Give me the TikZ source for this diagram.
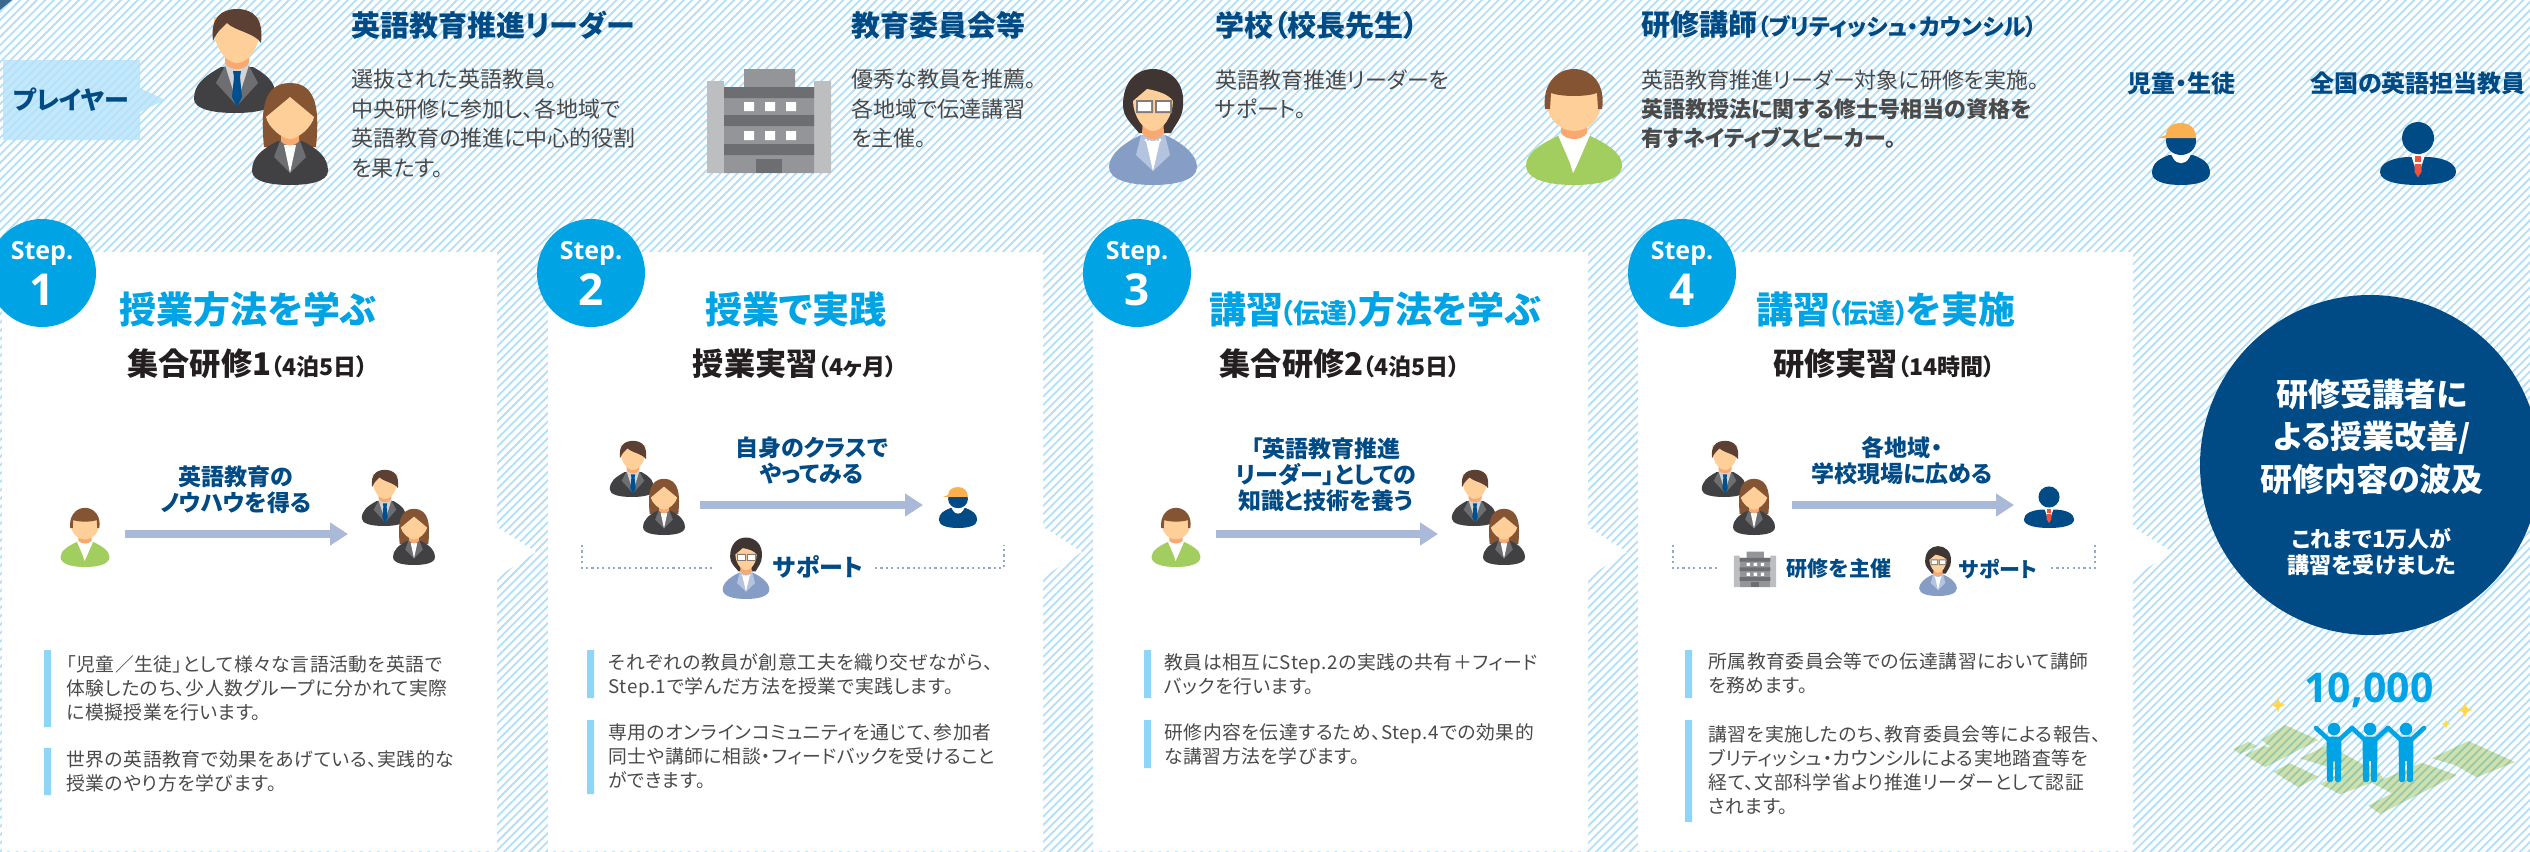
\documentclass[tikz,border=0pt]{standalone}
\usepackage{fontspec}
\usetikzlibrary{arrows.meta}
\setmainfont{Noto Sans CJK JP}[RawFeature=+palt]
\newfontfamily\stepfont{Open Sans}
\newfontfamily\notefont{Noto Sans CJK JP}[RawFeature=+palt,LetterSpace=3]
\newcommand\fs[2]{\fontsize{#1}{#2}\selectfont}
\definecolor{navy}{HTML}{004B85}
\definecolor{sky}{HTML}{00A3E4}
\definecolor{ink}{HTML}{4A4A4A}
\definecolor{darkink}{HTML}{231F20}
\definecolor{stripeblue}{HTML}{B3E0F7}
\definecolor{tagblue}{HTML}{B5E2FA}
\definecolor{barblue}{HTML}{8DD6F7}
\definecolor{flowblue}{HTML}{AAB9D8}
\definecolor{skin}{HTML}{FFCF99}
\definecolor{neckskin}{HTML}{F9A870}
\definecolor{suit}{HTML}{414042}
\definecolor{lapel}{HTML}{6D6E71}
\definecolor{shirt}{HTML}{D1D3D4}
\definecolor{tieblue}{HTML}{00508F}
\definecolor{hairdark}{HTML}{5C4033}
\definecolor{hairbrown}{HTML}{845433}
\definecolor{hairblack}{HTML}{3F3633}
\definecolor{jacket}{HTML}{869DC5}
\definecolor{jacketlight}{HTML}{B4C3DE}
\definecolor{knit}{HTML}{A2CD5F}
\definecolor{capyellow}{HTML}{FBB04F}
\definecolor{tiered}{HTML}{EE5340}
\definecolor{bldgmid}{HTML}{939598}
\definecolor{bldglight}{HTML}{BCBEC0}
\definecolor{bldgdark}{HTML}{6D6E71}
\definecolor{spark}{HTML}{FFD84D}
\definecolor{landgreen}{HTML}{CFE2AE}
\definecolor{landstripe}{HTML}{97C7A8}
\tikzset{
  stripe/.style={stripeblue,line width=.9pt},
  heading/.style={anchor=west,inner sep=0pt,text=navy,font=\fs{14.5}{18}\bfseries},
  rolehead/.style={anchor=center,inner sep=0pt,text=navy,font=\fs{12}{16}\bfseries},
  topbody/.style={anchor=north west,inner sep=0pt,align=left,text=ink,font=\fs{11}{14.7},execute at begin node=\strut},
  bodytext/.style={anchor=north west,inner sep=0pt,align=left,text=ink,font=\notefont\fs{9.4}{12},execute at begin node=\strut},
  steptitle/.style={anchor=center,inner sep=0pt,text=sky,font=\fs{18.5}{22}\bfseries},
  subtitle/.style={anchor=center,inner sep=0pt,text=darkink,font=\fs{15.6}{20}\bfseries},
  flowlabel/.style={anchor=center,inner sep=0pt,align=center,text=navy,font=\fs{11.5}{13}\bfseries},
  supportlabel/.style={anchor=center,inner sep=0pt,text=navy,font=\fs{12}{14}\bfseries},
  stepdisc/.style={circle,fill=sky,minimum size=54pt,inner sep=0pt},
  stepword/.style={anchor=center,inner sep=0pt,text=white,font=\stepfont\fs{12.5}{14}\bfseries},
  stepnum/.style={anchor=center,inner sep=0pt,text=white,font=\stepfont\fs{22}{24}\bfseries},
  flowarrow/.style={flowblue,line width=4pt,-{Triangle[length=9pt,width=11pt]}},
  dotline/.style={flowblue!85!navy,line width=1.1pt,dash pattern=on 1.1pt off 1.6pt},
  infobar/.style={barblue},
  % people and building icons, origin at the middle of the base
  leaderman/.pic={
    \fill[suit] (-43,-14) .. controls (-43,-28) and (-34,-36) .. (-16,-46) -- (16,-46)
      .. controls (34,-36) and (39,-28) .. (39,-14) .. controls (39,-4) and (20,0) .. (-2,0)
      .. controls (-24,0) and (-43,-4) .. cycle;
    \fill[lapel] (-12,-47) -- (-21,-30) -- (0,-7) -- (21,-30) -- (12,-47) -- cycle;
    \fill[shirt] (-12,-48) -- (12,-48) -- (0,-10) -- cycle;
    \fill[tieblue] (-4,-42) -- (4,-42) -- (3,-36) -- (5,-16) -- (0,-6) -- (-5,-16) -- (-3,-36) -- cycle;
    \fill[neckskin] (-12,-64) -- (12,-64) -- (12,-50) .. controls (8,-42) and (-8,-42) .. (-12,-50) -- cycle;
    \fill[skin] (-23,-86) .. controls (-24,-70) and (-13,-50) .. (0,-50)
      .. controls (13,-50) and (24,-70) .. (23,-86) -- (23,-96) -- (-23,-96) -- cycle;
    \fill[hairdark] (-24,-72) .. controls (-27,-95) and (-16,-104) .. (0,-104)
      .. controls (16,-104) and (27,-95) .. (24,-70) .. controls (18,-80) and (-2,-82) .. (-10,-90)
      .. controls (-14,-86) and (-20,-82) .. (-24,-72) -- cycle;
  },
  leaderwoman/.pic={
    \fill[hairbrown] (-26,-38) .. controls (-29,-70) and (-29,-102) .. (0,-102)
      .. controls (29,-102) and (29,-70) .. (26,-38) -- cycle;
    \fill[suit] (-38,-14) .. controls (-38,-28) and (-28,-36) .. (-12,-44) -- (12,-44)
      .. controls (28,-36) and (38,-28) .. (38,-14) .. controls (38,-3) and (18,0) .. (0,0)
      .. controls (-18,0) and (-38,-3) .. (-38,-14) -- cycle;
    \fill[lapel] (-10,-44) -- (-16,-28) -- (0,-12) -- (16,-28) -- (10,-44) -- cycle;
    \fill[white] (-6,-40) -- (6,-40) -- (0,-12) -- cycle;
    \fill[neckskin] (-9,-58) -- (9,-58) -- (9,-44) .. controls (5,-38) and (-5,-38) .. (-9,-44) -- cycle;
    \fill[skin] (-24,-68) -- (0,-88) -- (24,-68) .. controls (22,-58) and (8,-46) .. (0,-46)
      .. controls (-8,-46) and (-22,-58) .. cycle;
  },
  principal/.pic={
    \fill[hairblack] (-30,-80) .. controls (-30,-104) and (-16,-116) .. (0,-116)
      .. controls (16,-116) and (32,-104) .. (30,-80) .. controls (30,-68) and (22,-60) .. (18,-52)
      -- (-14,-52) .. controls (-22,-62) and (-30,-68) .. (-30,-80) -- cycle;
    \fill[jacket] (-44,-18) .. controls (-44,-30) and (-30,-42) .. (-12,-50) -- (12,-50)
      .. controls (30,-42) and (44,-30) .. (44,-18) .. controls (44,-4) and (20,0) .. (0,0)
      .. controls (-20,0) and (-44,-4) .. (-44,-18) -- cycle;
    \fill[jacketlight] (-12,-50) -- (-17,-30) -- (0,-14) -- (17,-30) -- (12,-50) -- cycle;
    \fill[white] (-7,-44) -- (7,-44) -- (0,-14) -- cycle;
    \fill[neckskin] (-10,-66) -- (10,-66) -- (11,-52) .. controls (6,-44) and (-6,-44) .. (-11,-52) -- cycle;
    \fill[skin] (-20,-84) -- (-6,-96) .. controls (6,-94) and (16,-90) .. (20,-84)
      .. controls (20,-70) and (10,-54) .. (0,-54) .. controls (-10,-54) and (-20,-70) .. (-20,-84) -- cycle;
    \fill[white] (-7,-45) circle (1.6) (-3.5,-43.5) circle (1.6) (0,-43) circle (1.6) (3.5,-43.5) circle (1.6) (7,-45) circle (1.6);
    \fill[bldgmid!70!hairdark] (-17,-85) rectangle (0,-72) (2,-85) rectangle (19,-72);
    \fill[white] (-15,-83) rectangle (-2,-74) (4,-83) rectangle (17,-74);
  },
  trainer/.pic={
    \fill[knit] (-48,-20) .. controls (-48,-32) and (-32,-42) .. (-14,-50) -- (14,-50)
      .. controls (32,-42) and (48,-32) .. (48,-20) .. controls (48,-4) and (22,0) .. (0,0)
      .. controls (-22,0) and (-48,-4) .. (-48,-20) -- cycle;
    \fill[white] (-16,-50) -- (16,-50) -- (3,-20) -- (-1,-12) -- (-4,-22) -- cycle;
    \fill[neckskin] (-13,-66) -- (13,-66) -- (13,-52) .. controls (8,-44) and (-8,-44) .. (-13,-52) -- cycle;
    \fill[skin] (-27,-82) .. controls (-27,-66) and (-14,-54) .. (0,-54)
      .. controls (14,-54) and (27,-66) .. (27,-82) -- (27,-96) -- (-27,-96) -- cycle;
    \fill[hairbrown] (-29,-76) .. controls (-32,-100) and (-18,-116) .. (0,-116)
      .. controls (18,-116) and (32,-100) .. (28,-76) -- (24,-76) -- (23,-92)
      .. controls (12,-88) and (-12,-88) .. (-23,-92) -- (-24,-76) -- cycle;
  },
  pupil/.pic={
    \fill[navy] (-29,-12) .. controls (-29,-22) and (-22,-26) .. (-12,-30) -- (12,-30)
      .. controls (22,-26) and (29,-22) .. (29,-12) .. controls (29,-3) and (14,0) .. (0,0)
      .. controls (-14,0) and (-29,-3) .. (-29,-12) -- cycle;
    \fill[white] (-10,-31) -- (10,-31) -- (8,-27) .. controls (4,-20) and (-4,-20) .. (-8,-27) -- cycle;
    \fill[navy] (0,-44) ellipse (15 and 14);
    \fill[capyellow] (-23,-47) -- (-15,-50) .. controls (-15,-58) and (-8,-62) .. (0,-62)
      .. controls (9,-62) and (15,-56) .. (15,-47) -- cycle;
  },
  schoolstaff/.pic={
    \fill[navy] (-38,-13) .. controls (-38,-22) and (-26,-27) .. (-11,-28) -- (11,-28)
      .. controls (26,-27) and (38,-22) .. (38,-13) .. controls (38,-3) and (18,0) .. (0,0)
      .. controls (-18,0) and (-38,-3) .. (-38,-13) -- cycle;
    \fill[white] (-7,-30) -- (7,-30) -- (0,-8) -- cycle;
    \fill[tiered] (-3,-29) rectangle (3,-23);
    \fill[tiered] (-3.5,-21) -- (3.5,-21) -- (3.5,-13) -- (0,-8) -- (-3.5,-13) -- cycle;
    \fill[navy] (0,-47) ellipse (16 and 16);
  },
  hallblock/.pic={
    \fill[bldglight] (-62,-92) rectangle (-45,0) (45,-92) rectangle (62,0);
    \fill[bldgmid] (-25,-104) rectangle (26,-86) (-45,-86) rectangle (45,0);
    \fill[bldgdark] (-45,-86) rectangle (45,-75) (-45,-58) rectangle (45,-47) (-45,-29) rectangle (45,-18);
    \fill[white] (-25,-71) rectangle (-15,-62) (-4,-71) rectangle (6,-62) (17,-71) rectangle (27,-62);
    \fill[white] (-25,-42) rectangle (-15,-33) (-4,-42) rectangle (6,-33) (17,-42) rectangle (27,-33);
    \fill[bldgdark] (-13,-14) rectangle (13,0);
  },
  sparkle/.pic={
    \fill[spark] (0,-10) .. controls (1.5,-2.5) and (2.5,-1.5) .. (10,0)
      .. controls (2.5,1.5) and (1.5,2.5) .. (0,10) .. controls (-1.5,2.5) and (-2.5,1.5) .. (-10,0)
      .. controls (-2.5,-1.5) and (-1.5,-2.5) .. cycle;
  },
  cheerer/.pic={
    \fill[sky] (0,-53) circle (6.3);
    \fill[sky,rounded corners=.8pt] (-7.5,-45) -- (7.5,-45) -- (7,0) -- (1,0) -- (1,-22) -- (-1,-22) -- (-1,0) -- (-7,0) -- cycle;
    \draw[sky,line width=2.3pt,line cap=round,line join=round] (-18,-54) -- (-6,-43) -- (6,-43) -- (18,-54);
  },
}
\newcommand\narrowgloss[1]{\kern-1.5pt{\fs{13.5}{16}（#1）}\kern-1.5pt}
% map patches around the three figures
\newcommand\landpath{
  (-20,268) -- (25,245) -- (50,258) -- (0,282) -- cycle
  (15,285) -- (70,258) -- (92,262) -- (65,240) -- (135,195) -- (235,240) -- (75,322) -- cycle
  (100,335) -- (150,310) -- (235,350) -- (175,382) -- cycle
  (180,295) -- (262,255) -- (420,340) -- (430,358) -- (545,308) -- (650,345) -- (420,462) -- (385,437) -- (455,400) -- (395,368) -- (300,403) -- (240,372) -- (310,335) -- cycle
  (575,295) -- (685,243) -- (825,306) -- (710,352) -- (645,315) -- cycle
}
\begin{document}
\begin{tikzpicture}[x=.5pt,y=-.5pt]
\useasboundingbox (0,0) rectangle (2530,851);
\clip (0,0) rectangle (2530,851);
\fill[white] (0,0) rectangle (2530,851);
% diagonal hatching behind everything
\foreach \s in {0,8.4,...,3400} \draw[stripe] (\s,-5) -- (\s-860,855);
\fill[navy!60!bldgmid] (0,0) -- (12,0) -- (0,10) -- cycle;

% white step cards, each with a point on its right edge
\foreach \a/\b in {2/497,548/1043,1093/1588,1638/2133}
  \fill[white] (\a,252) -- (\b,252) -- (\b,527) -- (\b+39,552) -- (\b,577) -- (\b,851) -- (\a,851) -- cycle;

% player tag
\fill[tagblue,fill opacity=.8] (3,60) -- (140,60) -- (140,88) -- (165,100) -- (140,112) -- (140,140) -- (3,140) -- cycle;
\node[anchor=center,inner sep=0pt,text=navy,font=\fs{12.5}{14}\bfseries] (playertag) at (71,100) {プレイヤー};

% cast of roles along the top
\pic at (237,113) {leaderman};
\pic at (290,185) {leaderwoman};
\node[heading] (h1) at (351,25) {英語教育推進リーダー};
\node[topbody] (t1) at (351,69) {選抜された英語教員。\\中央研修に参加し、各地域で\\英語教育の推進に中心的役割\\を果たす。};
\pic at (769,173) {hallblock};
\node[heading] (h2) at (851,25) {教育委員会等};
\node[topbody] (t2) at (851,69) {優秀な教員を推薦。\\各地域で伝達講習\\を主催。};
\pic at (1153,185) {principal};
\node[heading] (h3) at (1215,25) {学校（校長先生）};
\node[topbody] (t3) at (1215,69) {英語教育推進リーダーを\\サポート。};
\pic at (1574,185) {trainer};
\node[heading] (h4) at (1641,25) {研修講師{\fs{11.4}{12}（ブリティッシュ・カウンシル）}};
\node[topbody] (t4) at (1641,69) {英語教育推進リーダー対象に研修を実施。\\\textbf{英語教授法に関する修士号相当の資格を}\\\textbf{有すネイティブスピーカー。}};
\node[rolehead] (h5) at (2181,83) {児童・生徒};
\pic at (2181,185) {pupil};
\node[rolehead] (h6) at (2418,83) {全国の英語担当教員};
\pic at (2418,185) {schoolstaff};

% step badges
\foreach \n/\x in {1/42,2/591,3/1137,4/1682}{
  \node[stepdisc] (disc\n) at (\x,273) {};
  \node[stepword] (word\n) at (\x,253) {Step.};
  \node[stepnum] (num\n) at (\x,290) {\n};
}

% card headings
\node[steptitle] (title1) at (248,309) {授業方法を学ぶ};
\node[subtitle] (sub1) at (248,364) {集合研修1{\fs{11.5}{14}（4泊5日）}};
\node[steptitle] (title2) at (796,309) {授業で実践};
\node[subtitle] (sub2) at (795,364) {授業実習{\fs{11.5}{14}（4ヶ月）}};
\node[steptitle] (title3) at (1375,309) {講習\narrowgloss{伝達}方法を学ぶ};
\node[subtitle] (sub3) at (1340,364) {集合研修2{\fs{11.5}{14}（4泊5日）}};
\node[steptitle] (title4) at (1886,309) {講習\narrowgloss{伝達}を実施};
\node[subtitle] (sub4) at (1884,364) {研修実習{\fs{11.5}{14}（14時間）}};

% step 1 flow
\pic[scale=.51] at (85,567) {trainer};
\pic[scale=.54] at (385,526) {leaderman};
\pic[scale=.55] at (414,565) {leaderwoman};
\coordinate (f1a) at (125,534);
\coordinate (f1b) at (348,534);
\draw[flowarrow] (f1a) -- (f1b);
\node[flowlabel] (l1) at (236,490) {英語教育の\\ノウハウを得る};

% step 2 flow
\pic[scale=.54] at (633,497) {leaderman};
\pic[scale=.55] at (664,535) {leaderwoman};
\pic[scale=.66] at (958,528) {pupil};
\coordinate (f2a) at (700,505);
\coordinate (f2b) at (923,505);
\draw[flowarrow] (f2a) -- (f2b);
\node[flowlabel] (l2) at (812,461) {自身のクラスで\\やってみる};
\pic[scale=.53] at (746,599) {principal};
\node[supportlabel] (sup2) at (818,567) {サポート};
\coordinate (d2a) at (582,545);
\coordinate (d2b) at (712,568);
\coordinate (d2c) at (875,568);
\coordinate (d2d) at (1004,545);
\draw[dotline] (d2a) |- (d2b);
\draw[dotline] (d2c) -| (d2d);

% step 3 flow
\pic[scale=.51] at (1176,567) {trainer};
\pic[scale=.54] at (1475,526) {leaderman};
\pic[scale=.55] at (1504,565) {leaderwoman};
\coordinate (f3a) at (1216,534);
\coordinate (f3b) at (1438,534);
\draw[flowarrow] (f3a) -- (f3b);
\node[flowlabel] (l3) at (1326,474.5) {「英語教育推進\\リーダー」としての\\知識と技術を養う};

% step 4 flow
\pic[scale=.54] at (1725,497) {leaderman};
\pic[scale=.55] at (1754,535) {leaderwoman};
\pic[scale=.66] at (2049,528) {schoolstaff};
\coordinate (f4a) at (1792,505);
\coordinate (f4b) at (2014,505);
\draw[flowarrow] (f4a) -- (f4b);
\node[flowlabel] (l4) at (1902,461) {各地域・\\学校現場に広める};
\pic[scale=.34] at (1755,587) {hallblock};
\node[supportlabel,font=\fs{10.5}{13}\bfseries] (host4) at (1839,569) {研修を主催};
\pic[scale=.43] at (1938,596) {principal};
\node[supportlabel,font=\fs{10.5}{13}\bfseries] (sup4) at (1998,569) {サポート};
\coordinate (d4a) at (1673,545);
\coordinate (d4b) at (1717,568);
\coordinate (d4c) at (2051,568);
\coordinate (d4d) at (2095,545);
\draw[dotline] (d4a) |- (d4b);
\draw[dotline] (d4c) -| (d4d);

% notes under each flow
\fill[infobar] (44,650) rectangle (51,727) (44,748) rectangle (51,795);
\node[bodytext] (n1a) at (66,655) {「児童／生徒」として様々な言語活動を英語で\\体験したのち、少人数グループに分かれて実際\\に模擬授業を行います。};
\node[bodytext] (n1b) at (66,750) {世界の英語教育で効果をあげている、実践的な\\授業のやり方を学びます。};
\fill[infobar] (587,650) rectangle (594,698) (587,720) rectangle (594,794);
\node[bodytext] (n2a) at (608,653) {それぞれの教員が創意工夫を織り交ぜながら、\\Step.1で学んだ方法を授業で実践します。};
\node[bodytext] (n2b) at (608,723) {専用のオンラインコミュニティを通じて、参加者\\同士や講師に相談・フィードバックを受けること\\ができます。};
\fill[infobar] (1144,650) rectangle (1151,698) (1144,720) rectangle (1151,768);
\node[bodytext] (n3a) at (1164,653) {教員は相互にStep.2の実践の共有＋フィード\\バックを行います。};
\node[bodytext] (n3b) at (1164,723) {研修内容を伝達するため、Step.4での効果的\\な講習方法を学びます。};
\fill[infobar] (1685,650) rectangle (1692,698) (1685,720) rectangle (1692,822);
\node[bodytext] (n4a) at (1708,652) {所属教育委員会等での伝達講習において講師\\を務めます。};
\node[bodytext] (n4b) at (1708,725) {講習を実施したのち、教育委員会等による報告、\\ブリティッシュ・カウンシルによる実地踏査等を\\経て、文部科学省より推進リーダーとして認証\\されます。};

% outcome disc
\node[circle,fill=navy,minimum size=170pt,inner sep=0pt] (result) at (2370,465) {};
\node[anchor=center,inner sep=0pt,align=center,text=white,font=\fs{16}{21.2}\bfseries] (resulttext) at (2372,436.5) {研修受講者に\\よる授業改善/\\研修内容の波及};
\node[anchor=center,inner sep=0pt,align=center,text=white,font=\fs{11}{13}\bfseries] (resultsub) at (2372,552) {これまで1万人が\\講習を受けました};

% ten thousand people on the map; the hatching carries on across the patches
\begin{scope}[shift={(2240,660)},x=.16667pt,y=-.16667pt]
  \fill[landgreen] \landpath;
  \clip \landpath;
  \begin{scope}[x=.5pt,y=-.5pt,shift={(-2240,-660)}]
    \foreach \k in {352,...,397} \draw[landstripe,line width=.9pt] (\k*8.4,-5) -- (\k*8.4-860,855);
  \end{scope}
\end{scope}
\node[anchor=center,inner sep=0pt,text=sky,font=\stepfont\fs{20.5}{24}\bfseries] (count) at (2369,690) {10,000};
\pic at (2334,782) {cheerer};
\pic at (2370,782) {cheerer};
\pic at (2406,782) {cheerer};
\pic[scale=.8] at (2278,705) {sparkle};
\pic[scale=.8] at (2465,710) {sparkle};
\pic[scale=.5] at (2446,724) {sparkle};
\end{tikzpicture}
\end{document}
